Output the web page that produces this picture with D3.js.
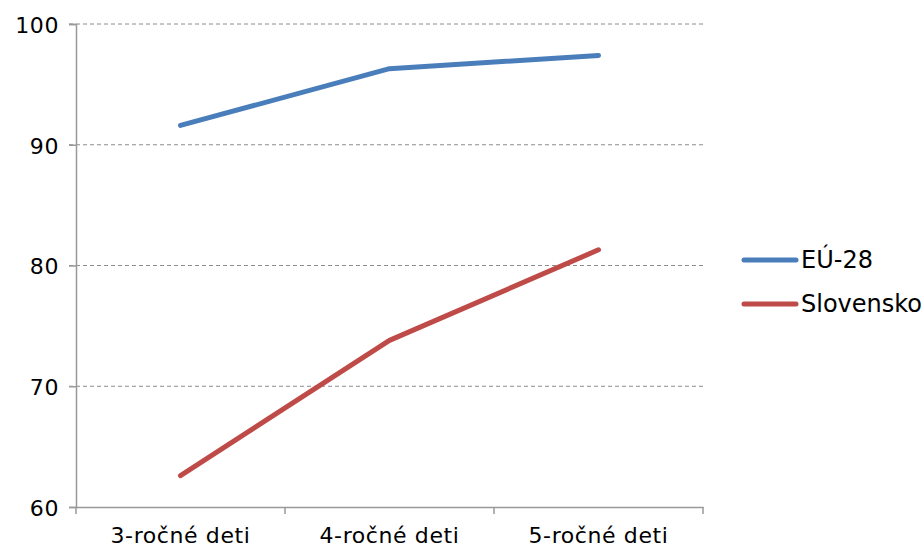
<!DOCTYPE html>
<html>
<head>
<meta charset="utf-8">
<script src="https://cdn.jsdelivr.net/npm/d3@7"></script>
<style>
  body { margin: 0; background: #fff; }
  svg text { font-family: "DejaVu Sans", Verdana, sans-serif; font-size: 22px; letter-spacing: 0.6px; fill: #000; }
  svg text.legend { font-size: 24px; letter-spacing: 0; }
</style>
</head>
<body>
<div id="chart"></div>
<script>
const categories = ["3-ročné deti", "4-ročné deti", "5-ročné deti"];
const seriesNames = ["EÚ-28", "Slovensko"];
const euValues = [91.6, 96.3, 97.4];
const skValues = [62.6, 73.8, 81.3];
const yTicks = [60, 70, 80, 90, 100];
const colors = ["#4A7EBB", "#BE4B48"];

const width = 924, height = 548;
const margin = { left: 76, right: 221, top: 24, bottom: 41 };

const svg = d3.select("#chart").append("svg")
    .attr("width", width)
    .attr("height", height);

const x = d3.scaleBand()
    .domain(categories)
    .range([margin.left, width - margin.right]);

const y = d3.scaleLinear()
    .domain([60, 100])
    .range([height - margin.bottom, margin.top]);

// gridlines
svg.append("g")
    .selectAll("line")
    .data(yTicks.filter(d => d > 60))
    .join("line")
    .attr("x1", margin.left - 7)
    .attr("x2", width - margin.right)
    .attr("y1", d => y(d))
    .attr("y2", d => y(d))
    .attr("stroke", "#8c8c8c")
    .attr("stroke-width", 1)
    .attr("stroke-dasharray", "4,3");

// y axis
const yAxis = svg.append("g")
    .attr("transform", `translate(${margin.left},0)`)
    .call(d3.axisLeft(y).tickValues(yTicks).tickSize(7).tickPadding(10));
yAxis.select(".domain").attr("stroke", "#999").attr("stroke-width", 1.5);
yAxis.selectAll(".tick line").attr("stroke", "#999").attr("stroke-width", 1.5);
yAxis.selectAll("text").attr("dy", "0.38em");

// x axis
const xAxis = svg.append("g")
    .attr("transform", `translate(0,${y(60)})`)
    .call(d3.axisBottom(x).tickSize(0));
xAxis.select(".domain").attr("stroke", "#999").attr("stroke-width", 1.5);
xAxis.selectAll("text").attr("y", 36).attr("dy", 0);

// category boundary ticks
const bounds = [margin.left].concat(categories.map(c => x(c) + x.bandwidth()));
svg.append("g")
    .selectAll("line")
    .data(bounds)
    .join("line")
    .attr("x1", d => d)
    .attr("x2", d => d)
    .attr("y1", y(60))
    .attr("y2", y(60) + 7)
    .attr("stroke", "#999")
    .attr("stroke-width", 1.5);

// lines
const line = d3.line()
    .x((d, i) => x(categories[i]) + x.bandwidth() / 2)
    .y(d => y(d));

[euValues, skValues].forEach((vals, i) => {
    svg.append("path")
        .datum(vals)
        .attr("d", line)
        .attr("fill", "none")
        .attr("stroke", colors[i])
        .attr("stroke-width", 5)
        .attr("stroke-linecap", "round")
        .attr("stroke-linejoin", "round");
});

// legend
const legend = svg.append("g");
seriesNames.forEach((name, i) => {
    const ly = 260 + i * 44;
    legend.append("line")
        .attr("x1", 744).attr("x2", 796)
        .attr("y1", ly).attr("y2", ly)
        .attr("stroke", colors[i])
        .attr("stroke-width", 5)
        .attr("stroke-linecap", "round");
    legend.append("text")
        .attr("class", "legend")
        .attr("x", 801)
        .attr("y", ly + 8)
        .text(name);
});
</script>
</body>
</html>
